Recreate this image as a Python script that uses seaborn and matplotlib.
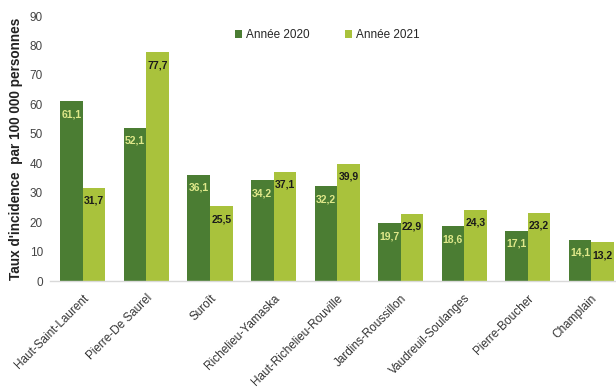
import pandas as pd
import seaborn as sns
import matplotlib.pyplot as plt

territoires = ['Haut-Saint-Laurent', 'Pierre-De Saurel', 'Suroît', 'Richelieu-Yamaska',
               'Haut-Richelieu-Rouville', 'Jardins-Roussillon', 'Vaudreuil-Soulanges',
               'Pierre-Boucher', 'Champlain']
taux_2020 = [61.1, 52.1, 36.1, 34.2, 32.2, 19.7, 18.6, 17.1, 14.1]
taux_2021 = [31.7, 77.7, 25.5, 37.1, 39.9, 22.9, 24.3, 23.2, 13.2]
annees = ['Année 2020', 'Année 2021']

df = pd.DataFrame({
    'territoire': territoires * 2,
    'annee': [annees[0]] * len(territoires) + [annees[1]] * len(territoires),
    'taux': taux_2020 + taux_2021,
})

sns.set_style('white')
plt.rcParams['font.family'] = ['Liberation Sans', 'DejaVu Sans']

fig = plt.figure(figsize=(6.16, 3.91), dpi=100)
ax = fig.add_axes([0.081, 0.281, 0.919, 0.678])

couleurs = ['#4b7d33', '#a9c23c']
sns.barplot(data=df, x='territoire', y='taux', hue='annee', order=territoires,
            hue_order=annees, palette=couleurs, width=0.71, saturation=1,
            ax=ax, edgecolor='none')

# étiquettes dans le haut des barres
lab_cols = ['#dfe88a', '#1a1a1a']
for cont, col in zip(ax.containers, lab_cols):
    labels = [f'{v:.1f}'.replace('.', ',') for v in cont.datavalues]
    ax.bar_label(cont, labels=labels, label_type='edge', padding=-13,
                 color=col, fontsize=7.5, fontweight='bold')

ax.set_ylim(0, 90)
ax.set_yticks(range(0, 91, 10))
ax.set_xlim(-0.52, 8.39)
ax.set_xlabel('')
ax.set_ylabel("Taux d'incidence  par 100 000 personnes", fontsize=9.8,
              fontweight='bold', color='#222222', labelpad=5)
ax.tick_params(axis='y', labelsize=8.5, colors='#444444', length=0, pad=5)
ax.tick_params(axis='x', labelsize=8.5, colors='#333333', length=0, pad=8)
plt.setp(ax.get_xticklabels(), rotation=45, ha='right', rotation_mode='anchor')

for s in ['top', 'right', 'left']:
    ax.spines[s].set_visible(False)
ax.spines['bottom'].set_color('#d9d9d9')
ax.spines['bottom'].set_linewidth(1)

ax.legend(loc='upper center', bbox_to_anchor=(0.49, 0.99), ncol=2, frameon=False,
          fontsize=8.5, handlelength=0.6, handleheight=0.6, handletextpad=0.3,
          columnspacing=3.0)

fig.savefig('out.png', dpi=100)
